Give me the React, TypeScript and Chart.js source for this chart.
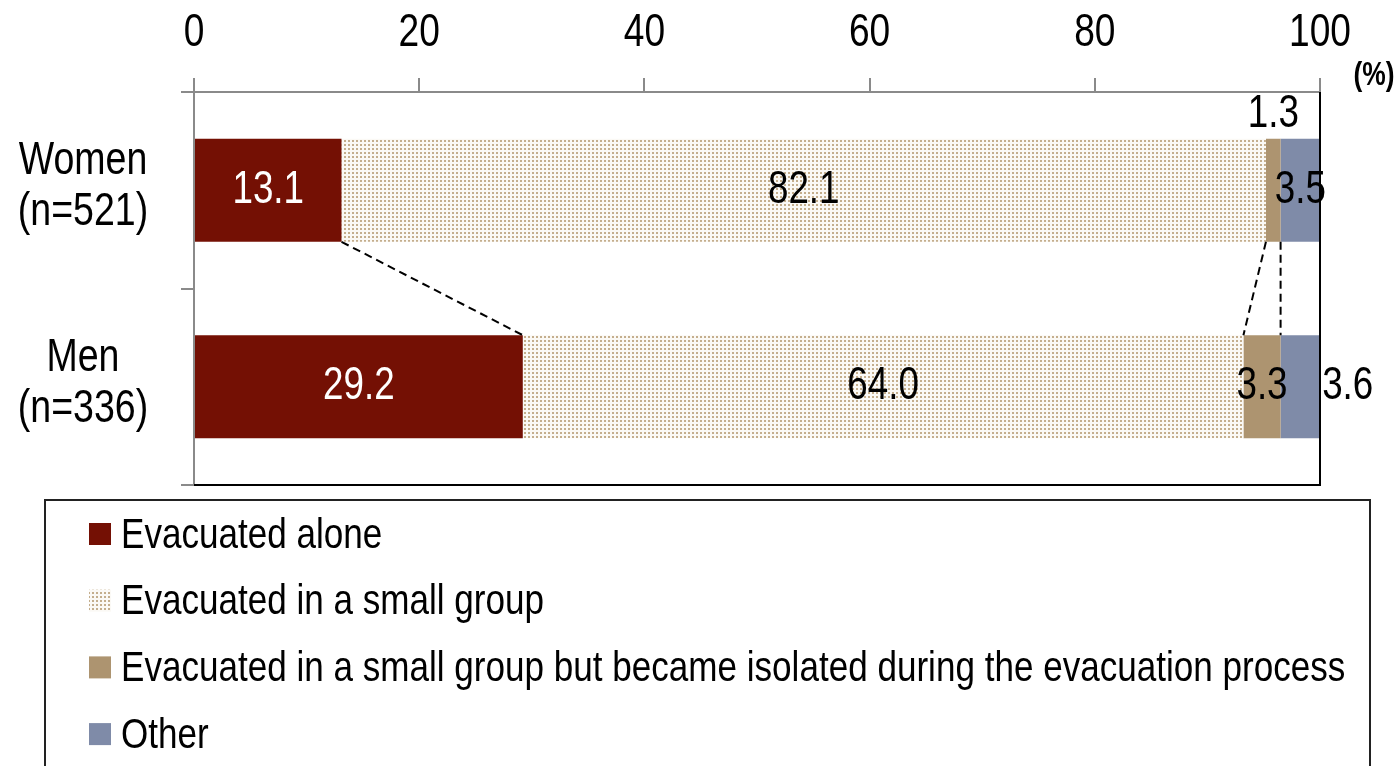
import React, { useEffect, useRef } from 'react';
import { Chart, registerables } from 'chart.js';

Chart.register(...registerables);

// ---- data ----
const categories: string[][] = [['Women', '(n=521)'], ['Men', '(n=336)']];
const seriesNames: string[] = [
  'Evacuated alone',
  'Evacuated in a small group',
  'Evacuated in a small group but became isolated during the evacuation process',
  'Other',
];
const aloneValues: number[] = [13.1, 29.2];
const smallGroupValues: number[] = [82.1, 64.0];
const isolatedValues: number[] = [1.3, 3.3];
const otherValues: number[] = [3.5, 3.6];
const xTickValues: number[] = [0, 20, 40, 60, 80, 100];
const unitLabel = '(%)';

// ---- styles ----
const FONT = "'Liberation Sans', Arial, sans-serif";
const seriesColors = ['#741004', 'PATTERN', '#AD9470', '#7F8BA8'];
const labelColors = ['#ffffff', '#000000', '#000000', '#000000'];
// per dataset, per category: where the value label goes
const labelPlacement: string[][] = [
  ['center', 'center'],
  ['center', 'center'],
  ['above', 'center'],
  ['center', 'right'],
];

function makePattern(): CanvasPattern | string {
  const c = document.createElement('canvas');
  c.width = 4;
  c.height = 4;
  const ctx = c.getContext('2d');
  if (!ctx) return '#eee6da';
  ctx.fillStyle = '#fbf9f5';
  ctx.fillRect(0, 0, 4, 4);
  ctx.fillStyle = '#c4ae8d';
  ctx.fillRect(0, 0, 2, 2);
  const p = ctx.createPattern(c, 'repeat');
  return p || '#eee6da';
}

// draws condensed text (horizontal scale) like a narrow Helvetica
function narrowText(
  ctx: CanvasRenderingContext2D,
  txt: string,
  x: number,
  y: number,
  align: CanvasTextAlign,
  size: number,
  sx: number,
  bold = false,
) {
  ctx.save();
  ctx.font = `${bold ? 'bold ' : ''}${size}px ${FONT}`;
  ctx.textAlign = align;
  ctx.textBaseline = 'middle';
  ctx.translate(x, y);
  ctx.scale(sx, 1);
  ctx.fillText(txt, 0, 0);
  ctx.restore();
}

const frameAndExtras = {
  id: 'frameAndExtras',
  afterDatasetsDraw(chart: any) {
    const ctx = chart.ctx;
    const area = chart.chartArea;
    const xs = chart.scales.x;
    const ys = chart.scales.y;
    const n = chart.data.labels.length;
    ctx.save();
    // right & bottom frame
    ctx.strokeStyle = '#000';
    ctx.lineWidth = 2;
    ctx.beginPath();
    ctx.moveTo(area.right, area.top);
    ctx.lineTo(area.right, area.bottom);
    ctx.lineTo(area.left, area.bottom);
    ctx.stroke();

    // dashed connector lines between consecutive bars
    ctx.setLineDash([8, 5]);
    ctx.lineWidth = 2;
    ctx.strokeStyle = '#000';
    const ds = chart.data.datasets;
    for (let c = 0; c < n - 1; c++) {
      let cumA = 0;
      let cumB = 0;
      for (let d = 0; d < ds.length; d++) {
        cumA += ds[d].data[c];
        cumB += ds[d].data[c + 1];
        const barA = chart.getDatasetMeta(d).data[c];
        const barB = chart.getDatasetMeta(d).data[c + 1];
        const yA = barA.y + barA.height / 2;
        const yB = barB.y - barB.height / 2;
        ctx.beginPath();
        ctx.moveTo(xs.getPixelForValue(Math.min(cumA, 100)), yA);
        ctx.lineTo(xs.getPixelForValue(Math.min(cumB, 100)), yB);
        ctx.stroke();
      }
    }
    ctx.setLineDash([]);

    // x tick labels (top)
    ctx.fillStyle = '#000';
    xs.ticks.forEach((t: any) => {
      narrowText(ctx, String(t.value), xs.getPixelForValue(t.value), 33, 'center', 47, 0.79);
    });
    // y category labels
    ys.getLabels().forEach((lab: string[], i: number) => {
      const cy = ys.getPixelForValue(i) - 3;
      const lh = 51;
      lab.forEach((line, k) => {
        narrowText(ctx, line, 83, cy + (k - (lab.length - 1) / 2) * lh, 'center', 46, 0.815);
      });
    });

    // value labels
    for (let d = 0; d < ds.length; d++) {
      const meta = chart.getDatasetMeta(d);
      meta.data.forEach((bar: any, i: number) => {
        const v = ds[d].data[i];
        const txt = v.toFixed(1);
        const place = labelPlacement[d][i];
        const left = Math.min(bar.x, bar.base);
        const right = Math.max(bar.x, bar.base);
        ctx.fillStyle = labelColors[d];
        if (place === 'above') {
          narrowText(ctx, txt, (left + right) / 2, bar.y - bar.height / 2 - 24, 'center', 46, 0.8);
        } else if (place === 'right') {
          narrowText(ctx, txt, right + 1, bar.y, 'left', 46, 0.8);
        } else {
          narrowText(ctx, txt, (left + right) / 2, bar.y, 'center', 46, 0.8);
        }
      });
    }

    // unit label
    ctx.fillStyle = '#000';
    narrowText(ctx, unitLabel, area.right + 54, area.top - 16, 'center', 33, 0.8, true);

    // legend box
    ctx.strokeStyle = '#222';
    ctx.lineWidth = 2;
    ctx.strokeRect(45, 500, 1325, 300);
    ds.forEach((d: any, i: number) => {
      const cy = 534 + i * 66.7;
      ctx.fillStyle = d.backgroundColor;
      ctx.fillRect(89, cy - 11, 22, 22);
      ctx.fillStyle = '#000';
      narrowText(ctx, d.label, 121, cy + 2, 'left', 42, 0.835);
    });
    ctx.restore();
  },
};

export default function App() {
  const ref = useRef<HTMLCanvasElement | null>(null);
  useEffect(() => {
    document.body.style.margin = '0';
    const canvas = ref.current;
    if (!canvas) return;
    const pattern = makePattern();
    const values = [aloneValues, smallGroupValues, isolatedValues, otherValues];
    const chart = new Chart(canvas, {
      type: 'bar',
      data: {
        labels: categories,
        datasets: seriesNames.map((name, i) => ({
          label: name,
          data: values[i],
          backgroundColor: seriesColors[i] === 'PATTERN' ? pattern : seriesColors[i],
          borderWidth: 0,
          barPercentage: 0.525,
          categoryPercentage: 1,
        })),
      },
      options: {
        indexAxis: 'y',
        responsive: false,
        animation: false,
        devicePixelRatio: 1,
        layout: { padding: { left: 0, right: 80, top: 0, bottom: 281 } },
        plugins: { legend: { display: false }, tooltip: { enabled: false } },
        scales: {
          x: {
            position: 'top',
            stacked: true,
            min: 0,
            max: 100,
            afterBuildTicks: (scale: any) => {
              scale.ticks = xTickValues.map((v) => ({ value: v }));
            },
            afterFit: (scale: any) => {
              scale.height = 92;
            },
            ticks: { display: false },
            grid: {
              drawOnChartArea: false,
              drawTicks: true,
              tickLength: 14,
              color: '#8a8a8a',
              lineWidth: 2,
            },
            border: { color: '#8a8a8a', width: 2 },
          },
          y: {
            stacked: true,
            afterFit: (scale: any) => {
              scale.width = 194;
            },
            ticks: { display: false },
            grid: {
              offset: true,
              drawOnChartArea: false,
              drawTicks: true,
              tickLength: 13,
              color: '#8a8a8a',
              lineWidth: 2,
            },
            border: { color: '#8a8a8a', width: 2 },
          },
        },
      },
      plugins: [frameAndExtras],
    } as any);
    return () => chart.destroy();
  }, []);
  return <canvas ref={ref} width={1400} height={766} style={{ display: 'block' }} />;
}
